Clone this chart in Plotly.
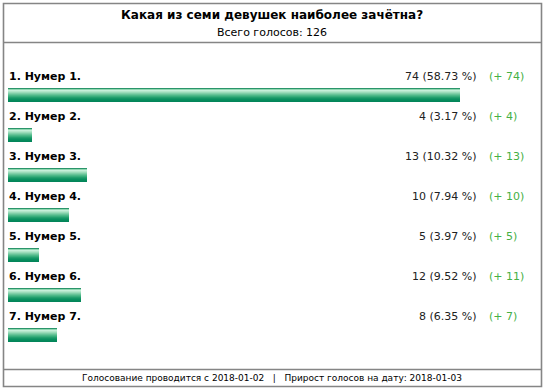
import plotly.graph_objects as go

title = "Какая из семи девушек наиболее зачётна?"
subtitle = "Всего голосов: 126"
footer = "Голосование проводится с 2018-01-02   |   Прирост голосов на дату: 2018-01-03"
names = ["1. Нумер 1.", "2. Нумер 2.", "3. Нумер 3.", "4. Нумер 4.", "5. Нумер 5.", "6. Нумер 6.", "7. Нумер 7."]
votes = [74, 4, 13, 10, 5, 12, 8]
percents = ["58.73", "3.17", "10.32", "7.94", "3.97", "9.52", "6.35"]
gains = [74, 4, 13, 10, 5, 11, 7]

W, H = 546, 392
FONT = "DejaVu Sans"
x0_px, xmax_px = 8, 460
scale = (xmax_px - x0_px) / max(votes)
row0, step = 76, 40
bar_off = 12

grad = ["#2a956a", "#8ed6b0", "#c6efda", "#b2e6ca", "#9adbba", "#80cfa8", "#66c398",
        "#4db888", "#37ad7b", "#239f6e", "#139665", "#098e5f", "#058a5b", "#03855a"]
nb = len(grad)

fig = go.Figure()
label_y = [row0 + step * i for i in range(len(votes))]
for k, c in enumerate(grad):
    h = nb - k
    fig.add_trace(go.Bar(
        orientation="h", x=votes, y=[ly + bar_off + k + h / 2 for ly in label_y],
        width=h, marker=dict(color=c, line=dict(width=0)), base=0,
        hoverinfo="skip", showlegend=False))

ann = []
def px(x):
    return x / W

ann.append(dict(x=px(272), y=15, xref="paper", yref="y", text="<b>" + title + "</b>",
                showarrow=False, font=dict(family=FONT, size=12, color="#000")))
ann.append(dict(x=px(272), y=32, xref="paper", yref="y", text=subtitle,
                showarrow=False, font=dict(family=FONT, size=11, color="#000")))
ann.append(dict(x=px(272), y=378, xref="paper", yref="y", text=footer,
                showarrow=False, font=dict(family=FONT, size=9, color="#000")))
for i, ly in enumerate(label_y):
    ann.append(dict(x=px(7), y=ly + 0.5, xref="paper", yref="y", text="<b>" + names[i] + "</b>",
                    xanchor="left", showarrow=False, font=dict(family=FONT, size=11, color="#000")))
    ann.append(dict(x=px(479), y=ly + 0.5, xref="paper", yref="y", text=f"{votes[i]} ({percents[i]} %)",
                    xanchor="right", showarrow=False, font=dict(family=FONT, size=11, color="#222")))
    ann.append(dict(x=px(487), y=ly + 0.5, xref="paper", yref="y", text=f"(+ {gains[i]})",
                    xanchor="left", showarrow=False, font=dict(family=FONT, size=11, color="#45b045")))

line = dict(color="#858585", width=1.6)
shapes = [
    dict(type="rect", xref="paper", yref="y", x0=px(3.5), x1=px(541.5), y0=3.5, y1=386.5, line=line),
    dict(type="line", xref="paper", yref="y", x0=px(3.5), x1=px(541.5), y0=42.5, y1=42.5, line=line),
    dict(type="line", xref="paper", yref="y", x0=px(3.5), x1=px(541.5), y0=369.5, y1=369.5, line=line),
]

fig.update_layout(
    width=W, height=H, margin=dict(l=0, r=0, t=0, b=0),
    paper_bgcolor="white", plot_bgcolor="white", barmode="overlay", bargap=0,
    xaxis=dict(range=[-x0_px / scale, (W - x0_px) / scale], visible=False, fixedrange=True),
    yaxis=dict(range=[H, 0], visible=False, fixedrange=True),
    annotations=ann, shapes=shapes, showlegend=False,
)
fig.write_html("out.html", config={"displayModeBar": False},
               post_script="document.body.style.margin='0';document.body.style.overflow='hidden';")
